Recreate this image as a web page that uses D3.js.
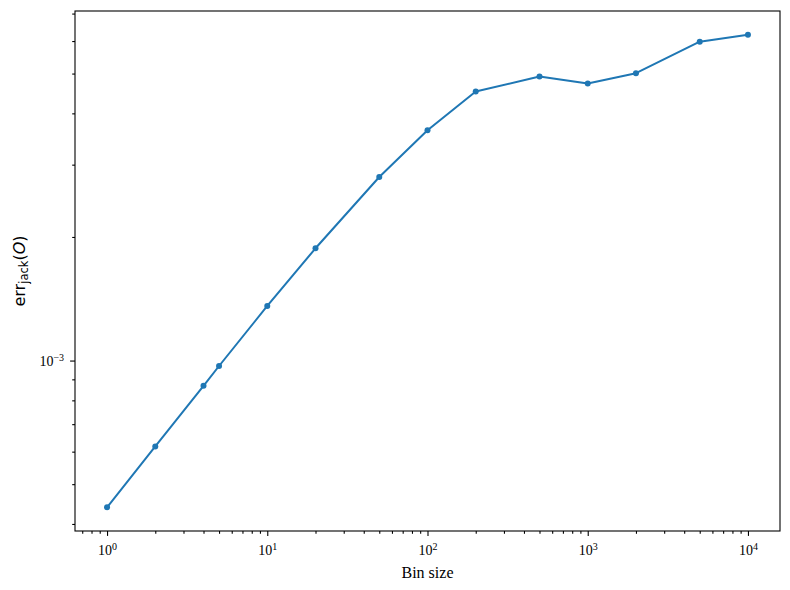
<!DOCTYPE html>
<html>
<head>
<meta charset="utf-8">
<script src="https://cdn.jsdelivr.net/npm/d3@7/dist/d3.min.js"></script>
<style>
	body { margin: 0; background: #fff; }
	.axis path { display: none; }
	.axis line { stroke: #000; stroke-width: 1.1; }
	.x-label { font-family: "Liberation Serif", serif; font-size: 16px; }
	.y-label { font-family: "DejaVu Sans", sans-serif; font-size: 16px; }
</style>
</head>
<body>
<div id="chart"></div>
<script>
// values
const binSizes = [1, 2, 4, 5, 10, 20, 50, 100, 200, 500, 1000, 2000, 5000, 10000];
const errJack = [4.39e-4, 6.18e-4, 8.68e-4, 9.70e-4, 1.358e-3, 1.877e-3, 2.80e-3,
	3.64e-3, 4.52e-3, 4.92e-3, 4.73e-3, 5.01e-3, 5.98e-3, 6.22e-3];
const xTickExps = [0, 1, 2, 3, 4];
const yTickExps = [-3];
const xLabel = "Bin size";

function LogPlot(id){
	this.margin = { top: 11, right: 10, bottom: 59, left: 75 };
	this.id = id;
	this.width = 790 - this.margin.left - this.margin.right;
	this.height = 590 - this.margin.top - this.margin.bottom;
	this.data = binSizes.map(function(b, i){ return { bin: b, err: errJack[i] }; });
}

LogPlot.prototype = {
	constructor: LogPlot,

	// matplotlib-like 5% padding in log space
	padLog: function(ext){
		let a = Math.log10(ext[0]), b = Math.log10(ext[1]), p = (b - a) * 0.05;
		return [Math.pow(10, a - p), Math.pow(10, b + p)];
	},

	supLabel: function(sel, exp){
		sel.text(null)
			.attr("font-family", "'Liberation Serif', 'Times New Roman', serif")
			.attr("font-size", "14px")
			.attr("fill", "#000");
		sel.append("tspan").text("10");
		sel.append("tspan")
			.attr("dy", "-0.45em")
			.attr("font-size", "10px")
			.text(exp < 0 ? "\u2212" + (-exp) : exp);
	},

	init: function(){
		let self = this;

		self.svg = d3.select(self.id).append("svg")
			.attr("width", 790)
			.attr("height", 590);

		let g = self.svg.append("g")
			.attr("transform", "translate(" + self.margin.left + "," + self.margin.top + ")");

		let x = d3.scaleLog().range([0, self.width])
				.domain(self.padLog(d3.extent(binSizes))),
			y = d3.scaleLog().range([self.height, 0])
				.domain(self.padLog(d3.extent(errJack)));

		let isMajor = function(v){ return Math.abs(Math.log10(v) - Math.round(Math.log10(v))) < 1e-9; };
		let xMinor = x.ticks().filter(function(v){ return !isMajor(v); }),
			yMinor = y.ticks().filter(function(v){ return !isMajor(v); });

		// minor ticks
		g.append("g")
			.attr("class", "axis")
			.attr("transform", "translate(0," + self.height + ")")
			.call(d3.axisBottom(x).tickValues(xMinor).tickSize(2.8).tickSizeOuter(0).tickFormat(""));
		g.append("g")
			.attr("class", "axis")
			.call(d3.axisLeft(y).tickValues(yMinor).tickSize(2.8).tickSizeOuter(0).tickFormat(""));

		// major ticks
		let xAxis = g.append("g")
			.attr("class", "axis axis--x")
			.attr("transform", "translate(0," + self.height + ")")
			.call(d3.axisBottom(x)
				.tickValues(xTickExps.map(function(e){ return Math.pow(10, e); }))
				.tickSize(4.9).tickSizeOuter(0).tickPadding(9));
		xAxis.selectAll(".tick text").each(function(d){
			self.supLabel(d3.select(this), Math.round(Math.log10(d)));
		});

		let yAxis = g.append("g")
			.attr("class", "axis axis--y")
			.call(d3.axisLeft(y)
				.tickValues(yTickExps.map(function(e){ return Math.pow(10, e); }))
				.tickSize(4.9).tickSizeOuter(0).tickPadding(6));
		yAxis.selectAll(".tick text").each(function(d){
			self.supLabel(d3.select(this), Math.round(Math.log10(d)));
		});

		// frame
		g.append("rect")
			.attr("x", 0).attr("y", 0)
			.attr("width", self.width).attr("height", self.height)
			.attr("fill", "none")
			.attr("stroke", "#000")
			.attr("stroke-width", 1.1);

		let line = d3.line()
			.x(function(d){ return x(d.bin); })
			.y(function(d){ return y(d.err); });

		g.append("path")
			.datum(self.data)
			.attr("fill", "none")
			.attr("stroke", "#1f77b4")
			.attr("stroke-width", 2)
			.attr("stroke-linejoin", "round")
			.attr("d", line);

		g.selectAll(".pt")
			.data(self.data)
			.enter().append("circle")
			.attr("class", "pt")
			.attr("cx", function(d){ return x(d.bin); })
			.attr("cy", function(d){ return y(d.err); })
			.attr("r", 3)
			.attr("fill", "#1f77b4");

		// axis labels
		self.svg.append("text")
			.attr("class", "x-label")
			.attr("x", self.margin.left + self.width / 2)
			.attr("y", 578)
			.attr("text-anchor", "middle")
			.text(xLabel);

		let yl = self.svg.append("text")
			.attr("class", "y-label")
			.attr("transform", "translate(25," + (self.margin.top + self.height / 2) + ") rotate(-90)")
			.attr("text-anchor", "middle");
		yl.append("tspan").text("err");
		yl.append("tspan").attr("font-size", "11.5px").attr("dy", "3").text("jack");
		yl.append("tspan").attr("dy", "-3").text("(");
		yl.append("tspan").attr("font-style", "italic").text("O");
		yl.append("tspan").text(")");
	}
};

let plot = new LogPlot("#chart");
plot.init();
</script>
</body>
</html>
